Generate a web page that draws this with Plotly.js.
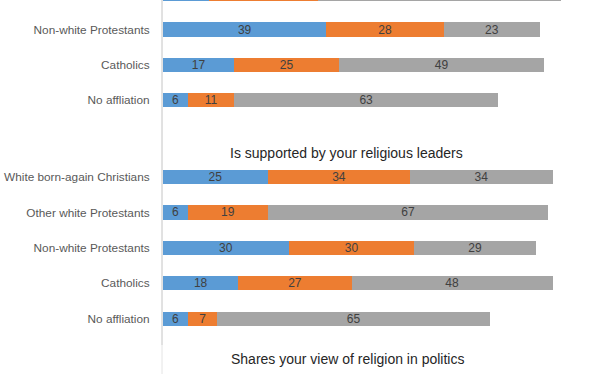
<!DOCTYPE html>
<html>
<head>
<meta charset="utf-8">
<script src="https://cdn.plot.ly/plotly-3.0.1.min.js"></script>
<style>html,body{margin:0;padding:0;background:#fff;}#chart{width:612px;height:374px;}</style>
</head>
<body>
<div id="chart"></div>
<script>
// Section visible at the top (cut off by the crop)
const topCategories = ['Other white Protestants', 'Non-white Protestants', 'Catholics', 'No affliation'];
const topSeries1 = [11, 39, 17, 6];
const topSeries2 = [26, 28, 25, 11];
const topSeries3 = [58, 23, 49, 63];

// Section "Is supported by your religious leaders"
const midCategories = ['White born-again Christians', 'Other white Protestants', 'Non-white Protestants', 'Catholics', 'No affliation'];
const midSeries1 = [25, 6, 30, 18, 6];
const midSeries2 = [34, 19, 30, 27, 7];
const midSeries3 = [34, 67, 29, 48, 65];

const sectionTitles = ['Is supported by your religious leaders', 'Shares your view of religion in politics'];
const seriesNames = ['Series1', 'Series2', 'Series3'];
const seriesColors = ['#5B9BD5', '#ED7D31', '#A5A5A5'];

const W = 612, H = 374;
const py = p => 1 - p / H;

function mk(vals, cats, k, yax, hideFirst) {
  return {
    type: 'bar', orientation: 'h',
    x: vals, y: cats,
    name: seriesNames[k],
    marker: {color: seriesColors[k], line: {width: 0}},
    text: vals.map(String),
    textposition: vals.map((v, i) => (hideFirst && i === 0) ? 'none' : 'inside'),
    insidetextanchor: 'middle',
    textangle: 0,
    textfont: {family: 'Liberation Sans, Arial, sans-serif', size: 12, color: '#404040'},
    hoverinfo: 'skip',
    xaxis: 'x', yaxis: yax,
    showlegend: false,
    cliponaxis: true
  };
}

const data = [
  mk(topSeries1, topCategories, 0, 'y', true),
  mk(topSeries2, topCategories, 1, 'y', true),
  mk(topSeries3, topCategories, 2, 'y', true),
  mk(midSeries1, midCategories, 0, 'y2', false),
  mk(midSeries2, midCategories, 1, 'y2', false),
  mk(midSeries3, midCategories, 2, 'y2', false)
];

const tickFont = {family: 'Liberation Sans, Arial, sans-serif', size: 11.8, color: '#595959'};
const topSpacing = 35.25, topFirst = 29.5;   // pixel centre of index 1
const midSpacing = 35.45, midFirst = 177;

const yCommon = {
  type: 'category', showgrid: false, zeroline: false, showline: false,
  ticks: 'outside', ticklen: 10, tickcolor: 'rgba(0,0,0,0)',
  tickfont: tickFont, anchor: 'x', fixedrange: true
};

const topBottomPx = topFirst + topSpacing * 2.5;
const midTopPx = midFirst - midSpacing * 0.5;
const midBottomPx = midFirst + midSpacing * 4.5;

const layout = {
  width: W, height: H,
  margin: {l: 163, r: 30, t: 0, b: 0, pad: 0},
  paper_bgcolor: '#fff', plot_bgcolor: 'rgba(0,0,0,0)',
  barmode: 'stack', bargap: 0.6,
  uniformtext: {mode: 'show', minsize: 12},
  showlegend: false,
  xaxis: {range: [0, 100], visible: false, fixedrange: true},
  yaxis: Object.assign({}, yCommon, {
    domain: [py(topBottomPx), 1],
    categoryorder: 'array', categoryarray: topCategories,
    range: [3.5, 1 - topFirst / topSpacing]
  }),
  yaxis2: Object.assign({}, yCommon, {
    domain: [py(midBottomPx), py(midTopPx)],
    categoryorder: 'array', categoryarray: midCategories,
    range: [4.5, -0.5]
  }),
  shapes: [
    {type: 'line', xref: 'paper', yref: 'paper', x0: -1 / 419, x1: -1 / 419, y0: py(345), y1: 1,
     line: {color: '#c4c4c4', width: 1}},
    {type: 'line', xref: 'paper', yref: 'paper', x0: -1 / 419, x1: -1 / 419, y0: 0, y1: py(345),
     line: {color: '#e4e4e4', width: 1}}
  ],
  annotations: [
    {text: sectionTitles[0], xref: 'paper', yref: 'paper', x: (346 - 163) / 419, y: py(153.3),
     xanchor: 'center', yanchor: 'middle', showarrow: false,
     font: {family: 'Liberation Sans, Arial, sans-serif', size: 14, color: '#262626'}},
    {text: sectionTitles[1], xref: 'paper', yref: 'paper', x: (347 - 163) / 419, y: py(359),
     xanchor: 'center', yanchor: 'middle', showarrow: false,
     font: {family: 'Liberation Sans, Arial, sans-serif', size: 14, color: '#262626'}}
  ]
};

Plotly.newPlot('chart', data, layout, {displayModeBar: false, staticPlot: true});
</script>
</body>
</html>
